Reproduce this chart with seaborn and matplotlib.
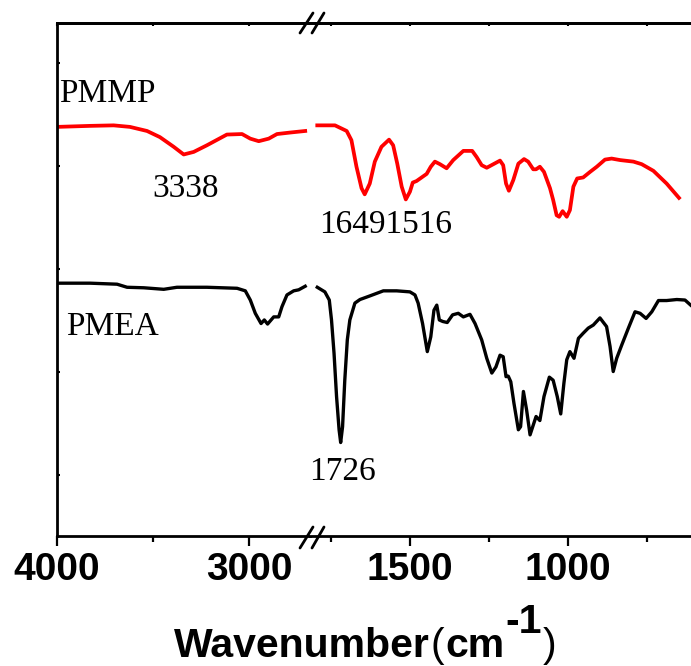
import matplotlib
matplotlib.use("Agg")
import matplotlib.pyplot as plt
import seaborn as sns
import pandas as pd
from matplotlib.lines import Line2D

# ---------------- data ----------------
pmmp_wn = [4000, 3828, 3705, 3620, 3531, 3464, 3392, 3340, 3288, 3219, 3115, 3036,
           2993, 2949, 2897, 2854, 2784, 2707,
           1793, 1737, 1700, 1685, 1669, 1653, 1643, 1627, 1611, 1590, 1566, 1553,
           1540, 1526, 1513, 1500, 1491, 1479, 1463, 1447, 1434, 1421, 1405, 1384,
           1363, 1331, 1303, 1289, 1273, 1257, 1236, 1215, 1205, 1196, 1187, 1173,
           1157, 1139, 1126, 1110, 1101, 1089, 1076, 1057, 1047, 1036, 1028, 1017,
           1004, 994, 983, 971, 952, 930, 909, 883, 862, 835, 793, 767, 730, 688, 649]
pmmp_t = [79.5, 79.7, 79.8, 79.5, 78.7, 77.5, 75.6, 74.1, 74.6, 75.9, 78.0, 78.1,
          77.2, 76.7, 77.2, 78.1, 78.4, 78.7,
          79.8, 79.8, 78.7, 76.9, 71.7, 67.5, 66.3, 68.4, 72.7, 75.6, 77.0, 75.9,
          72.3, 67.8, 65.3, 66.8, 68.6, 68.9, 69.6, 70.3, 71.7, 72.7, 72.2, 71.4,
          73.0, 74.8, 74.8, 73.6, 72.0, 71.5, 72.2, 72.9, 72.0, 68.4, 67.0, 69.1,
          72.3, 73.2, 72.7, 71.2, 71.2, 71.7, 70.7, 67.5, 65.2, 62.2, 61.9, 63.0,
          61.9, 63.2, 67.8, 69.4, 69.6, 70.7, 71.7, 73.1, 73.3, 73.0, 72.7, 72.2,
          70.9, 68.4, 65.6]

pmea_wn = [4000, 3827, 3687, 3635, 3548, 3444, 3375, 3219, 3062, 3019, 2993, 2967,
           2937, 2920, 2903, 2871, 2845, 2828, 2802, 2767, 2741, 2707,
           1793, 1769, 1755, 1748, 1740, 1732, 1724, 1719, 1713, 1706, 1698, 1690,
           1674, 1658, 1627, 1584, 1542, 1500, 1484, 1474, 1460, 1445, 1434, 1424,
           1415, 1407, 1396, 1382, 1365, 1347, 1331, 1310, 1294, 1273, 1257, 1241,
           1228, 1215, 1205, 1196, 1189, 1181, 1171, 1157, 1150, 1141, 1131, 1120,
           1110, 1101, 1089, 1076, 1059, 1047, 1034, 1023, 1013, 1004, 994, 981,
           967, 952, 936, 920, 899, 878, 867, 857, 846, 830, 809, 788, 772, 753,
           735, 714, 688, 656, 630, 612]
pmea_t = [48.9, 48.9, 48.7, 48.1, 48.0, 47.7, 48.1, 48.1, 47.9, 47.4, 45.6, 43.0,
          41.0, 41.7, 40.9, 42.3, 42.3, 44.3, 46.6, 47.4, 47.6, 48.3,
          48.1, 47.2, 45.6, 41.7, 35.2, 26.7, 20.2, 17.7, 20.8, 29.9, 37.8, 41.7,
          45.0, 45.7, 46.4, 47.4, 47.4, 47.2, 46.6, 45.0, 41.0, 35.5, 38.4, 43.6,
          44.6, 41.7, 41.4, 41.2, 42.7, 43.0, 42.3, 42.8, 41.0, 37.8, 34.2, 31.3,
          32.5, 34.8, 34.5, 30.6, 30.7, 29.6, 25.4, 20.2, 20.8, 27.7, 24.1, 19.2,
          21.1, 22.8, 22.0, 26.7, 30.5, 29.9, 26.7, 23.3, 29.3, 33.9, 35.5, 34.2,
          38.1, 39.1, 40.1, 40.7, 42.1, 40.4, 36.5, 31.6, 34.2, 36.8, 40.1, 43.3,
          43.0, 42.0, 43.3, 45.5, 45.5, 45.7, 45.6, 44.6]

high_xlim = (4000, 2682)
low_xlim = (1816, 611)
y_lim = (-0.6, 99.9)
y_ticks = [11.4, 31.5, 51.7, 71.8, 92.0]
high_major = [4000, 3000]
high_minor = [3500]
low_major = [1500, 1000]
low_minor = [1750, 1250, 750]

peak_labels = [("3338", "high", 3328, 65.8),
               ("16491516", "low", 1578, 58.7),
               ("1726", "low", 1712, 10.4)]
series_labels = [("PMMP", 3990, 84.3), ("PMEA", 3953, 38.7)]

# ---------------- figure ----------------
W, H = 691, 666
fig = plt.figure(figsize=(W / 100, H / 100), dpi=100)


def rect(x0, y0, x1, y1):
    return [x0 / W, 1 - y1 / H, (x1 - x0) / W, (y1 - y0) / H]


ax_hi = fig.add_axes(rect(57, 22.7, 310, 536))
ax_lo = fig.add_axes(rect(310, 22.7, 691, 536))

df = pd.concat([
    pd.DataFrame({"wn": pmmp_wn, "t": pmmp_t, "sample": "PMMP"}),
    pd.DataFrame({"wn": pmea_wn, "t": pmea_t, "sample": "PMEA"}),
])
df["segment"] = ["high" if w > 2000 else "low" for w in df["wn"]]

colors = {"PMMP": "#ff0000", "PMEA": "#000000"}
widths = {"PMMP": 2.7, "PMEA": 2.4}
axes = {"high": ax_hi, "low": ax_lo}

for seg, ax in axes.items():
    for name in ["PMEA", "PMMP"]:
        sub = df[(df["segment"] == seg) & (df["sample"] == name)]
        sns.lineplot(data=sub, x="wn", y="t", ax=ax, color=colors[name],
                     linewidth=widths[name], estimator=None, sort=False,
                     legend=False)

tick_font = {"family": "Liberation Sans", "weight": "bold", "size": 28}
for seg, ax, xl, maj, mnr in [("high", ax_hi, high_xlim, high_major, high_minor),
                              ("low", ax_lo, low_xlim, low_major, low_minor)]:
    ax.set_xlim(*xl)
    ax.set_ylim(*y_lim)
    ax.set_xlabel("")
    ax.set_ylabel("")
    ax.set_xticks(maj)
    ax.set_xticks(mnr, minor=True)
    ax.set_xticklabels([str(v) for v in maj], fontdict=tick_font)
    ax.tick_params(axis="x", which="major", direction="out", length=7, width=1.6,
                   pad=4.5, top=False, bottom=True)
    ax.tick_params(axis="x", which="minor", direction="out", length=4.3,
                   width=1.6, top=False, bottom=True)
    ax.set_facecolor("white")
    for s in ax.spines.values():
        s.set_linewidth(2)
    ax.spines["right"].set_visible(False)
    sec = ax.secondary_xaxis("top")
    sec.set_xticks(maj + mnr)
    sec.tick_params(axis="x", direction="in", length=2.5, width=1.5,
                    labeltop=False)
    sec.spines["top"].set_linewidth(2)

ax_hi.set_yticks(y_ticks)
ax_hi.tick_params(axis="y", direction="in", length=2.5, width=1.5,
                  labelleft=False)
ax_lo.spines["left"].set_visible(False)
ax_lo.set_yticks([])

# annotations
txt_font = dict(family="Liberation Serif", size=24)
for lab, seg, x, y in peak_labels:
    axes[seg].text(x, y, lab, ha="center", va="baseline", clip_on=False,
                   **txt_font)
for lab, x, y in series_labels:
    ax_hi.text(x, y, lab, ha="left", va="baseline", clip_on=False, **txt_font)

# axis break marks
for x0, y0, x1, y1 in [(300, 33, 313, 13), (312, 33, 324, 13),
                       (300, 548, 313, 527), (312, 548, 324, 527)]:
    fig.add_artist(Line2D([x0 / W, x1 / W], [1 - y0 / H, 1 - y1 / H],
                          transform=fig.transFigure, color="black", lw=2,
                          solid_capstyle="round"))

# x label built piece by piece (full-size superscript)
fig.canvas.draw()
renderer = fig.canvas.get_renderer()
pieces = [("Wavenumber", "bold", 0), ("(", "normal", 0), ("cm", "bold", 0),
          ("-1", "bold", 24), (")", "normal", 0)]
x_cur = 174
base = 657
for s, wt, rise in pieces:
    t = fig.text(x_cur / W, 1 - (base - rise) / H, s, ha="left", va="baseline",
                 family="Liberation Sans", weight=wt, size=29.5)
    bb = t.get_window_extent(renderer)
    x_cur = bb.x1 + 1

fig.savefig("out.png", dpi=100)
